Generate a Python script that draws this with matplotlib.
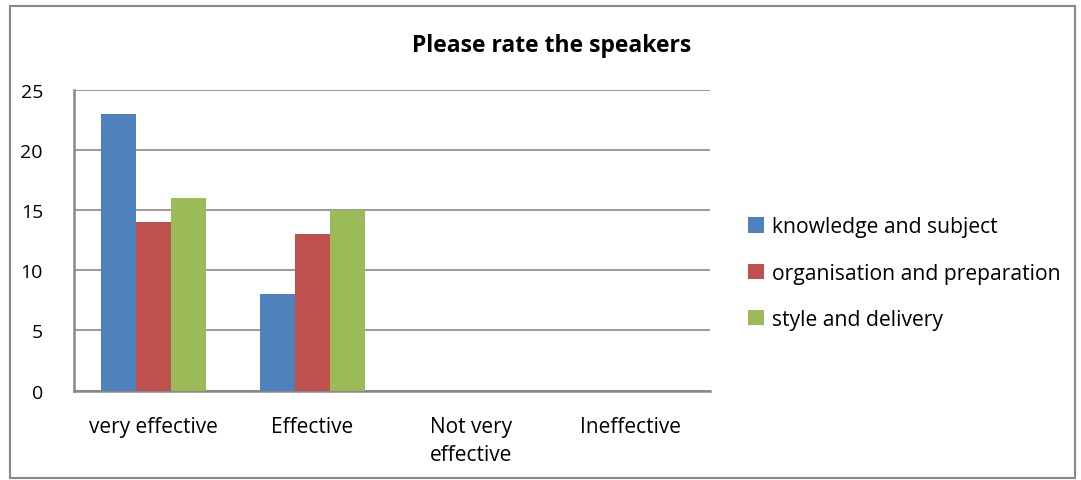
import matplotlib.pyplot as plt
import numpy as np
from matplotlib.patches import Rectangle

categories = ['very effective', 'Effective', 'Not very\neffective', 'Ineffective']
series_names = ['knowledge and subject', 'organisation and preparation', 'style and delivery']
knowledge = [23, 8, 0, 0]
organisation = [14, 13, 0, 0]
style = [16, 15, 0, 0]
yticks = [0, 5, 10, 15, 20, 25]

colors = ['#4F81BD', '#C0504D', '#9BBB59']
plt.rcParams['font.family'] = ['Open Sans', 'DejaVu Sans']

fig = plt.figure(figsize=(10.81, 4.81), dpi=100)
ax = fig.add_axes([0.068, 0.186, 0.589, 0.625])

x = np.arange(len(categories))
w = 0.22
for i, (vals, name) in enumerate(zip([knowledge, organisation, style], series_names)):
    ax.bar(x + (i - 1) * w, vals, width=w, color=colors[i], label=name, zorder=3)

ax.set_xlim(-0.5, 3.5)
ax.set_ylim(0, 25)
ax.set_yticks(yticks)
ax.set_xticks(x)
ax.set_xticklabels(categories, fontsize=15, linespacing=1.45)
ax.tick_params(axis='y', length=0, pad=22, labelsize=14)
ax.tick_params(axis='x', length=0, pad=18)
ax.yaxis.grid(True, color='#888888', linewidth=1.2, zorder=0)
for s in ['top', 'right']:
    ax.spines[s].set_visible(False)
for s in ['left', 'bottom']:
    ax.spines[s].set_color('#888888')
    ax.spines[s].set_linewidth(1.8)

fig.text(0.51, 0.905, 'Please rate the speakers', ha='center', va='center',
         fontsize=16.5, fontweight='bold')

leg = ax.legend(loc='center left', bbox_to_anchor=(1.03, 0.39), frameon=False,
                fontsize=15.2, handlelength=0.75, handleheight=0.75,
                handletextpad=0.35, labelspacing=1.2)

# outer chart border
fig.patches.append(Rectangle((0.009, 0.005), 0.985, 0.98, transform=fig.transFigure,
                             fill=False, edgecolor='#888888', linewidth=1.5))

plt.savefig('out.png', dpi=100)
